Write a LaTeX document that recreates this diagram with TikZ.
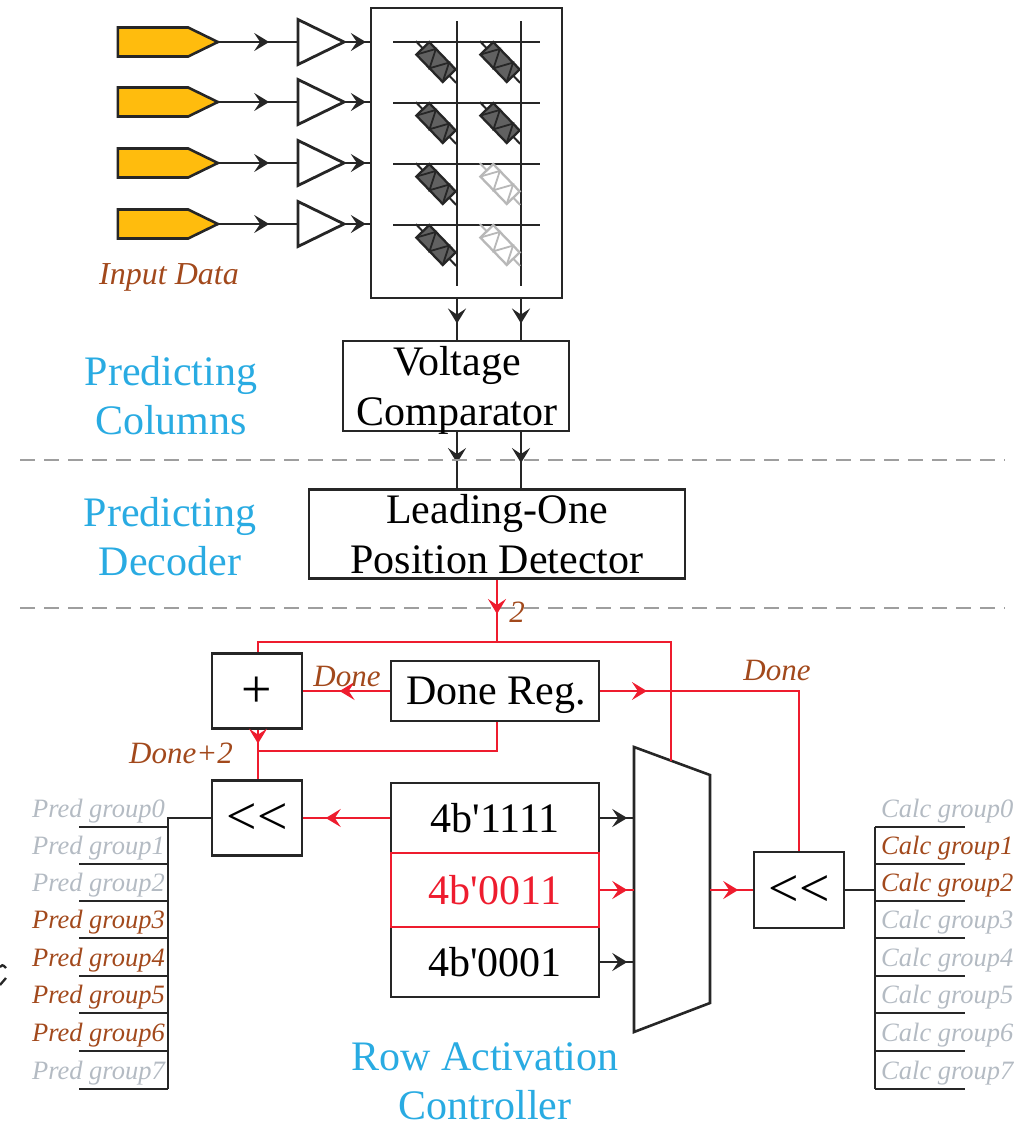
\documentclass[tikz,border=0pt]{standalone}
\usepackage{fontspec}
\setmainfont[Ligatures=TeXOff]{Liberation Serif}
\usetikzlibrary{arrows.meta,decorations.markings,shapes.geometric,shapes.symbols}
\definecolor{wirered}{HTML}{EE1C2E}
\definecolor{brownlab}{HTML}{A2491C}
\definecolor{fadedlab}{HTML}{B4BBC3}
\definecolor{titleblue}{HTML}{29ABE2}
\definecolor{inputgold}{HTML}{FFBC0D}
\tikzset{
  box/.style={draw=black!85,line width=2.6pt,inner sep=0pt,align=center,font=\fontsize{42}{50}\selectfont},
  boxtext/.style={inner sep=0pt,align=center,font=\fontsize{42}{50}\selectfont},
  bigsym/.style={font=\fontsize{54}{54}\selectfont,text height=37pt,text depth=4pt},
  wire/.style={line width=2.3pt,draw=black!85},
  redwire/.style={line width=2.3pt,draw=wirered},
  midhead/.style={postaction={decorate},decoration={markings,mark=at position #1 with {\arrow{Stealth[length=15pt,width=18pt,inset=6pt]}}}},
  lab/.style={inner sep=0pt,font=\fontsize{#1}{#1}\selectfont\itshape},
  title/.style={inner sep=0pt,align=center,text=titleblue,font=\fontsize{42}{49}\selectfont},
  grouplab/.style={inner sep=0pt,font=\fontsize{26.5}{26.5}\selectfont\itshape},
  divider/.style={dash pattern=on 15pt off 9pt,line width=2.5pt,draw=black!38},
}
\begin{document}
\begin{tikzpicture}[x=1pt,y=-1pt]
\useasboundingbox (0,0) rectangle (1014,1128);
% input rows
\node[box,minimum width=191pt,minimum height=290pt] (xbar) at (466.5,153) {};
\foreach \i/\y in {1/42,2/102,3/163,4/224}{
  \node[signal,signal to=east,signal from=nowhere,signal pointer angle=52,draw=black!85,line width=2.6pt,fill=inputgold,minimum width=100pt,minimum height=29pt,inner sep=0pt,outer sep=0pt] (in\i) at (153,\y) {};
  \node[isosceles triangle,isosceles triangle apex angle=54,isosceles triangle stretches,draw=black!85,line width=2.8pt,minimum width=45pt,minimum height=46pt,inner sep=0pt,outer sep=0pt,anchor=lower side] (amp\i) at (298,\y) {};
  \draw[wire,midhead=0.64] (in\i.east) -- (amp\i.lower side);
  \draw[wire,midhead=0.85] (amp\i.apex) -- (amp\i.apex -| xbar.west);
}
% crossbar
\foreach \y in {42,103,164,225} \draw[wire] (393,\y) -- (540,\y);
\coordinate (col1) at (457,21);
\coordinate (col2) at (521,21);
\draw[wire] (col1) -- (457,286);
\draw[wire] (col2) -- (521,286);
\foreach \x/\y/\fillc/\linec in {457/42/black!62/black!85,521/42/black!62/black!85,457/103/black!62/black!85,521/103/black!62/black!85,457/164/black!62/black!85,521/164/white/black!28,457/225/black!62/black!85,521/225/white/black!28}{
  \begin{scope}[shift={(\x-21,\y+20)},rotate=-46,y=1pt]
    \draw[line width=2pt,draw=\linec] (-29,0) -- (29,0);
    \draw[line width=2.3pt,draw=\linec,fill=\fillc] (-19,-9) rectangle (19,9);
    \draw[line width=1.8pt,draw=\linec] (-19,-9) -- (-9.5,9) -- (0,-9) -- (9.5,9) -- (19,-9);
  \end{scope}
}
\node[lab=32,text=brownlab] (inputlab) at (169,277) {Input Data};
% comparator and detector
\node[box,minimum width=226pt,minimum height=90pt] (cmp) at (456,386) {};
\node[boxtext] (cmptext) at (457,390) {Voltage\\Comparator};
\node[box,minimum width=376pt,minimum height=89pt] (lod) at (497,534) {Leading-One\\Position Detector};
\foreach \c in {col1,col2}{
  \draw[wire,midhead=0.6] (\c |- xbar.south) -- (\c |- cmp.north);
  \draw[wire,midhead=0.55] (\c |- cmp.south) -- (\c |- lod.north);
}
\draw[divider] (20,460) -- (1005,460);
\draw[divider] (20,608) -- (1005,608);
\node[title] (predcol) at (171,396) {Predicting\\Columns};
\node[title] (preddec) at (170,537) {Predicting\\Decoder};
% controller
\node[box,bigsym,minimum width=90pt,minimum height=75pt] (adder) at (257,691) {+};
\node[box,minimum width=208pt,minimum height=60pt] (donereg) at (495,691) {};
\node[boxtext] (doneregtext) at (496,695) {Done Reg.};
\node[box,bigsym,minimum width=90pt,minimum height=75pt] (shl) at (257,818) {<<};
\node[box,minimum width=208pt,minimum height=70pt] (v1111) at (495,818) {4b'1111};
\node[box,minimum width=208pt,minimum height=70pt] (v0001) at (495,962) {4b'0001};
\node[box,draw=wirered,text=wirered,minimum width=208pt,minimum height=74pt] (v0011) at (495,890) {4b'0011};
\node[box,bigsym,minimum width=90pt,minimum height=76pt] (shr) at (799,890) {<<};
\draw[wire,line width=2.6pt,fill=white] (634,747) -- (710,775) -- (710,1003) -- (634,1032) -- cycle;
\coordinate (muxin) at (634,890);
\coordinate (muxout) at (710,890);
\coordinate (muxsel) at (671,761);
\coordinate (tap) at (497,642);
\coordinate (join) at (258,751);
\draw[redwire,midhead=0.55] (lod.south -| tap) -- (tap);
\draw[redwire] (adder.north -| join) |- (tap) -| (muxsel);
\draw[redwire,midhead=0.58] (donereg.west) -- (adder.east);
\draw[redwire,midhead=0.13] (donereg.east) -| (shr.north);
\draw[redwire] (donereg.south -| tap) |- (join);
\draw[redwire,midhead=0.28] (adder.south -| join) -- (shl.north -| join);
\draw[redwire,midhead=0.74] (v1111.west) -- (shl.east);
\draw[wire,midhead=0.8] (v1111.east) -- (v1111.east -| muxin);
\draw[redwire,midhead=0.8] (v0011.east) -- (muxin);
\draw[wire,midhead=0.8] (v0001.east) -- (v0001.east -| muxin);
\draw[redwire,midhead=0.66] (muxout) -- (shr.west);
\node[lab=31,text=brownlab] (twolab) at (517,612) {2};
\node[lab=31,text=brownlab] (donel) at (347,676) {Done};
\node[lab=31,text=brownlab] (doner) at (777,670) {Done};
\node[lab=31,text=brownlab] (doneplus) at (181,753) {Done+2};
\node[title] (rowtitle) at (485,1081) {Row Activation\\Controller};
% group combs
\coordinate (predbus) at (168,818);
\coordinate (calcbus) at (875,890);
\draw[wire] (shl.west) -- (predbus) -- (168,1089);
\draw[wire] (shr.east) -- (calcbus);
\draw[wire] (875,827) -- (875,1089);
\foreach \i/\y/\cp/\cc in {0/827/fadedlab/fadedlab,1/864/fadedlab/brownlab,2/901/fadedlab/brownlab,3/938/brownlab/fadedlab,4/976/brownlab/fadedlab,5/1013/brownlab/fadedlab,6/1051/brownlab/fadedlab,7/1089/fadedlab/fadedlab}{
  \draw[wire] (79,\y) -- (168,\y);
  \draw[wire] (875,\y) -- (965,\y);
  \node[grouplab,text=\cp,anchor=south east] (pred\i) at (165,\y-4) {Pred group\i};
  \node[grouplab,text=\cc,anchor=south west] (calc\i) at (881,\y-4) {Calc group\i};
}
% cut-off letter at the left edge
\draw[wire] (6,968) .. controls (3,964) and (1,965) .. (0,967);
\draw[wire] (6,978) -- (0,985);
\end{tikzpicture}
\end{document}
